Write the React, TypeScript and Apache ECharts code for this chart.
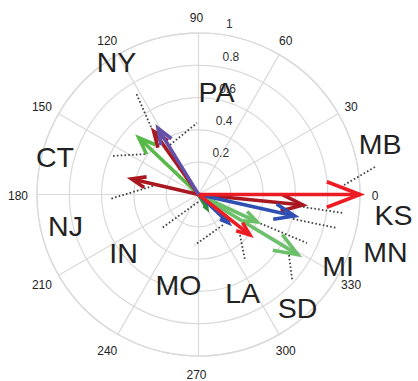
import React, { useEffect, useRef } from "react";
import * as echarts from "echarts";

// ---- axis ticks ----
const angleTicks = [0, 30, 60, 90, 120, 150, 180, 210, 240, 270, 300, 330];
const radialTicks = [0.2, 0.4, 0.6, 0.8, 1];
const radialTickLabels = ["0.2", "0.4", "0.6", "0.8", "1"];

// ---- arrows (vectors) ----
const arrowLengths = [0.72, 0.40, 0.10, 0.51, 0.65, 0.48, 0.425, 0.61, 0.255, 1.0, 0.405, 0.48];
const arrowAngles = [328.8, 335.0, 301.0, 136.5, 354.3, 125.3, 166.9, 347.4, 316.6, 0.0, 321.8, 121.5];
const arrowColors = [
  "#6cc06a", "#6cc06a", "#2e8b3d", "#58b848", "#a9171f", "#a9171f", "#a9171f",
  "#2f4fb3", "#2f4fb3", "#ec1c24", "#ec1c24", "#6450a8",
];

// ---- state labels ----
const stateNames = ["NY", "PA", "MB", "CT", "KS", "NJ", "MN", "IN", "MI", "MO", "LA", "SD"];
const stateRadius = [0.965, 0.644, 1.166, 0.919, 1.214, 0.847, 1.212, 0.589, 0.971, 0.574, 0.671, 0.933];
const stateAngles = [121.75, 80.0, 15.4, 165.2, 354.1, 193.5, 342.8, 217.95, 332.9, 257.5, 294.0, 311.1];

// ---- dotted connectors (same order as states) ----
const connFromR = [0.511, 0.354, 0.903, 0.415, 0.652, 0.287, 0.604, 0.047, 0.4, 0.242, 0.359, 0.674];
const connFromA = [125.1, 119.9, 3.7, 142.9, 353.2, 169.4, 345.5, 266.0, 334.8, 308.8, 315.7, 326.2];
const connToR = [0.738, 0.443, 1.118, 0.592, 0.902, 0.549, 0.882, 0.307, 0.736, 0.313, 0.497, 0.785];
const connToA = [121.6, 91.2, 9.1, 156.25, 352.7, 182.9, 346.4, 222.5, 335.9, 266.0, 305.4, 317.6];

const FONT = "'Liberation Sans', Arial, Helvetica, sans-serif";
const R_PX = 161.5;

export default function App() {
  const ref = useRef<HTMLDivElement>(null);

  useEffect(() => {
    if (!ref.current) return;
    const chart = echarts.init(ref.current, undefined, { renderer: "svg" });

    const gridColor = "#dadada";

    const option: any = {
      animation: false,
      backgroundColor: "#ffffff",
      polar: { center: [198.5, 194.5], radius: R_PX },
      angleAxis: {
        type: "value",
        min: 0,
        max: 360,
        interval: 30,
        startAngle: 0,
        clockwise: false,
        axisLine: { show: true, lineStyle: { color: gridColor, width: 1.2 } },
        axisTick: { show: false },
        axisLabel: { show: false },
        splitLine: { show: true, lineStyle: { color: gridColor, width: 1.2 } },
      },
      radiusAxis: {
        type: "value",
        min: 0,
        max: 1,
        interval: 0.2,
        axisLine: { show: false },
        axisTick: { show: false },
        axisLabel: { show: false },
        splitLine: { show: true, lineStyle: { color: gridColor, width: 1.2 } },
      },
      series: [
        // angle tick labels
        {
          type: "custom",
          coordinateSystem: "polar",
          silent: true,
          data: angleTicks.map((a) => [a]),
          renderItem: (params: any, api: any) => {
            const a = api.value(0);
            const p = api.coord([1 + 17 / R_PX, a]);
            return {
              type: "text",
              x: p[0] - 2,
              y: p[1] + 1.5,
              style: {
                text: String(a),
                fontSize: 12,
                fontFamily: FONT,
                fill: "#222",
                align: "center",
                verticalAlign: "middle",
              },
            };
          },
        },
        // radial tick labels
        {
          type: "custom",
          coordinateSystem: "polar",
          silent: true,
          data: radialTicks.map((v) => [v]),
          renderItem: (params: any, api: any) => {
            const v = api.value(0);
            const p = api.coord([v, 84]);
            return {
              type: "text",
              x: p[0] + 10.5,
              y: p[1] - 9.5,
              style: {
                text: radialTickLabels[params.dataIndex],
                fontSize: 12,
                fontFamily: FONT,
                fill: "#333",
                align: "left",
                verticalAlign: "middle",
              },
            };
          },
        },
        // dotted connectors
        {
          type: "custom",
          coordinateSystem: "polar",
          silent: true,
          z: 3,
          data: stateNames.map((_, i) => [connFromR[i], connFromA[i], connToR[i], connToA[i]]),
          renderItem: (params: any, api: any) => {
            const p1 = api.coord([api.value(0), api.value(1)]);
            const p2 = api.coord([api.value(2), api.value(3)]);
            return {
              type: "line",
              shape: { x1: p1[0], y1: p1[1], x2: p2[0], y2: p2[1] },
              style: { stroke: "#404040", lineWidth: 1.8, lineDash: [1.6, 2.2], fill: null },
            };
          },
        },
        // arrows
        {
          type: "custom",
          coordinateSystem: "polar",
          silent: true,
          z: 4,
          data: arrowLengths.map((r, i) => [r, arrowAngles[i]]),
          renderItem: (params: any, api: any) => {
            const r = api.value(0);
            const a = api.value(1);
            const color = arrowColors[params.dataIndex];
            const c = api.coord([0, a]);
            const t = api.coord([r, a]);
            const dx = t[0] - c[0];
            const dy = t[1] - c[1];
            const len = Math.hypot(dx, dy) || 1;
            const bx = -dx / len;
            const by = -dy / len;
            const h = Math.max(len * 0.22, 4);
            const phi = (21 * Math.PI) / 180;
            const cs = Math.cos(phi);
            const sn = Math.sin(phi);
            const b1 = [t[0] + h * (bx * cs - by * sn), t[1] + h * (bx * sn + by * cs)];
            const b2 = [t[0] + h * (bx * cs + by * sn), t[1] + h * (-bx * sn + by * cs)];
            return {
              type: "group",
              children: [
                {
                  type: "line",
                  shape: { x1: c[0], y1: c[1], x2: t[0], y2: t[1] },
                  style: { stroke: color, lineWidth: 3.6, fill: null },
                },
                {
                  type: "polyline",
                  shape: { points: [b1, t, b2] },
                  style: { stroke: color, lineWidth: 3.6, fill: null, lineJoin: "miter" },
                },
              ],
            };
          },
        },
        // state labels
        {
          type: "custom",
          coordinateSystem: "polar",
          silent: true,
          z: 5,
          data: stateNames.map((_, i) => [stateRadius[i], stateAngles[i]]),
          renderItem: (params: any, api: any) => {
            const p = api.coord([api.value(0), api.value(1)]);
            return {
              type: "text",
              x: p[0],
              y: p[1],
              style: {
                text: stateNames[params.dataIndex],
                fontSize: 28.5,
                fontFamily: FONT,
                fill: "#222",
                align: "center",
                verticalAlign: "middle",
              },
            };
          },
        },
      ],
    };

    chart.setOption(option);
    return () => chart.dispose();
  }, []);

  return (
    <div
      ref={ref}
      style={{ position: "absolute", left: 0, top: 0, width: 418, height: 381, background: "#fff" }}
    />
  );
}
